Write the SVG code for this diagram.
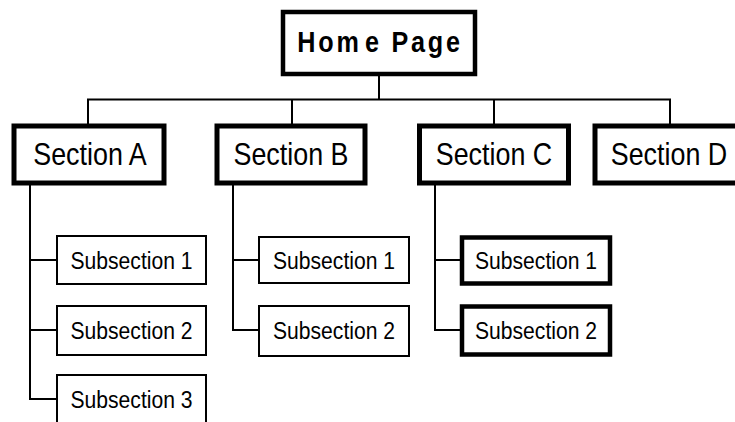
<svg xmlns="http://www.w3.org/2000/svg" width="735" height="422" viewBox="0 0 735 422">
  <style>
    .bg { fill: #ffffff; }
    .wire { fill: none; stroke: #000000; stroke-width: 2; }
    .home { fill: #ffffff; stroke: #000000; stroke-width: 4.5; }
    .sec { fill: #ffffff; stroke: #000000; stroke-width: 5; }
    .sub { fill: #ffffff; stroke: #000000; stroke-width: 2; }
    .subk { fill: #ffffff; stroke: #000000; stroke-width: 4.5; }
    text { font-family: "Liberation Sans", Arial, sans-serif; fill: #000000; text-anchor: middle; }
    .t-home { font-size: 30px; font-weight: bold; letter-spacing: 3.3px; }
    .t-sec { font-size: 32px; }
    .t-sub { font-size: 24px; }
  </style>
  <rect class="bg" x="0" y="0" width="735" height="422"/>

  <!-- tree connectors -->
  <g id="connectors">
    <path class="wire" d="M379 74 V99.5 M88 124 V99.5 H670 V124 M292 99.5 V124 M494 99.5 V124"/>
    <path class="wire" d="M30 183 V399 H57 M30 260 H57 M30 330 H57"/>
    <path class="wire" d="M233 183 V330 H259 M233 260 H259"/>
    <path class="wire" d="M435 183 V330 H462 M435 260 H462"/>
  </g>

  <!-- labels use a narrowed face: x scaled about the label centre -->
  <g id="home">
    <rect class="home" x="283" y="12" width="192" height="62"/>
    <text class="t-home" transform="matrix(0.84 0 0 1 380 0)" x="0" y="52">Hom<tspan dx="4">e</tspan> Page</text>
  </g>

  <g id="section-a">
    <rect class="sec" x="14" y="126" width="150" height="57"/>
    <text class="t-sec" transform="matrix(0.84 0 0 1 90 0)" x="0" y="165">Section A</text>
  </g>
  <g id="section-b">
    <rect class="sec" x="217" y="126" width="148" height="57"/>
    <text class="t-sec" transform="matrix(0.84 0 0 1 291 0)" x="0" y="165">Section B</text>
  </g>
  <g id="section-c">
    <rect class="sec" x="419.5" y="126" width="149" height="57"/>
    <text class="t-sec" transform="matrix(0.84 0 0 1 494 0)" x="0" y="165">Section C</text>
  </g>
  <g id="section-d">
    <rect class="sec" x="595" y="126" width="150" height="57"/>
    <text class="t-sec" transform="matrix(0.84 0 0 1 669 0)" x="0" y="165">Section D</text>
  </g>

  <g id="a-sub1">
    <rect class="sub" x="57" y="236" width="149" height="48"/>
    <text class="t-sub" transform="matrix(0.88 0 0 1 131.5 0)" x="0" y="269">Subsection 1</text>
  </g>
  <g id="a-sub2">
    <rect class="sub" x="57" y="306" width="149" height="49"/>
    <text class="t-sub" transform="matrix(0.88 0 0 1 131.5 0)" x="0" y="339">Subsection 2</text>
  </g>
  <g id="a-sub3">
    <rect class="sub" x="57" y="375" width="149" height="50"/>
    <text class="t-sub" transform="matrix(0.88 0 0 1 131.5 0)" x="0" y="408">Subsection 3</text>
  </g>

  <g id="b-sub1">
    <rect class="sub" x="259" y="237" width="150" height="46"/>
    <text class="t-sub" transform="matrix(0.88 0 0 1 334 0)" x="0" y="269">Subsection 1</text>
  </g>
  <g id="b-sub2">
    <rect class="sub" x="259" y="306" width="150" height="50"/>
    <text class="t-sub" transform="matrix(0.88 0 0 1 334 0)" x="0" y="339">Subsection 2</text>
  </g>

  <g id="c-sub1">
    <rect class="subk" x="462" y="237.5" width="148" height="46"/>
    <text class="t-sub" transform="matrix(0.88 0 0 1 536 0)" x="0" y="269">Subsection 1</text>
  </g>
  <g id="c-sub2">
    <rect class="subk" x="462" y="306.5" width="148" height="48"/>
    <text class="t-sub" transform="matrix(0.88 0 0 1 536 0)" x="0" y="339">Subsection 2</text>
  </g>
</svg>
